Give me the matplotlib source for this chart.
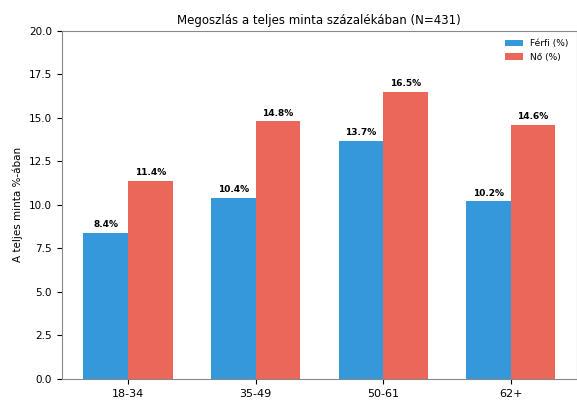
import numpy as np
import matplotlib.pyplot as plt

# korcsoportok es szazalekos megoszlas
age_groups = ['18-34', '35-49', '50-61', '62+']
ferfi = [8.4, 10.4, 13.7, 10.2]
no = [11.4, 14.8, 16.5, 14.6]


def main():
    fig = plt.figure(figsize=(5.77, 4.01), dpi=100)
    ax = fig.add_axes([0.107, 0.055, 0.893, 0.868])

    x = np.arange(len(age_groups))
    width = 0.35
    b1 = ax.bar(x - width / 2, ferfi, width, color='#3498db', label='Férfi (%)')
    b2 = ax.bar(x + width / 2, no, width, color='#e74c3c', alpha=0.85, label='Nő (%)')

    for bars in (b1, b2):
        for bar in bars:
            h = bar.get_height()
            ax.text(bar.get_x() + bar.get_width() / 2, h + 0.2, '%.1f%%' % h,
                    ha='center', va='bottom', fontsize=6.5, fontweight='bold')

    ax.set_xticks(x)
    ax.set_xticklabels(age_groups, fontsize=8)
    ax.set_xlim(-0.52, 3.52)
    ax.set_ylim(0, 20)
    ax.set_yticks(np.arange(0, 20.1, 2.5))
    ax.tick_params(axis='y', labelsize=7.5)
    ax.set_ylabel('A teljes minta %-ában', fontsize=7.5)
    ax.set_title('Megoszlás a teljes minta százalékában (N=431)', fontsize=8.5, pad=5)
    ax.legend(loc='upper right', fontsize=6.5, frameon=False)
    for s in ax.spines.values():
        s.set_color('#888888')

    fig.savefig('out.png', dpi=100)


if __name__ == '__main__':
    main()
